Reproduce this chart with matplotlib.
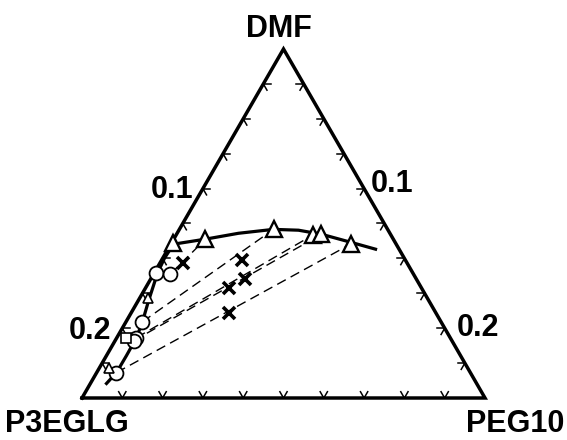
import numpy as np
import matplotlib
matplotlib.use("Agg")
import matplotlib.pyplot as plt

# mass fractions (P3EGLG, PEG10); DMF is the rest. Diagram shows DMF 0.75..1
SCALE = 0.25

# PEG10-rich phase (triangles)
tri_p3 = [0.1378, 0.1165, 0.0708, 0.0487, 0.0428, 0.0283]
tri_peg = [0.0013, 0.0197, 0.0584, 0.0847, 0.0899, 0.1115]

# P3EGLG-rich phase (circles)
circ_p3 = [0.1596, 0.1507, 0.1852, 0.1946, 0.1975, 0.2195]
circ_peg = [0.0008, 0.0105, 0.0102, 0.0122, 0.0115, 0.0123]

# feed compositions (crosses)
feed_p3 = [0.1387, 0.1017, 0.1060, 0.1197, 0.1280]
feed_peg = [0.0146, 0.0496, 0.0588, 0.0515, 0.0610]

# small open markers on the left branch
stri_p3 = [0.1729, 0.2227]
stri_peg = [0.0054, 0.0056]
sq_p3 = [0.2008]
sq_peg = [0.0060]

# binodal curve
bin_p3 = [0.2296, 0.2195, 0.2072, 0.1946, 0.1852, 0.1740, 0.1584, 0.1487,
          0.1381, 0.1165, 0.0939, 0.0708, 0.0556, 0.0428, 0.0276, 0.0146]
bin_peg = [0.0100, 0.0123, 0.0124, 0.0122, 0.0102, 0.0065, 0.0021, 0.0011,
           0.0017, 0.0197, 0.0381, 0.0584, 0.0742, 0.0899, 0.1108, 0.1288]

# tie lines: index into circles -> index into triangles
tie_circ = [1, 2, 3, 4, 5]
tie_tri = [1, 2, 3, 4, 5]

tick_labels = ["0.1", "0.2"]
tick_vals = [0.1, 0.2]

H = np.sqrt(3) / 2


def to_xy(p3, peg):
    u = np.asarray(p3) / SCALE
    v = np.asarray(peg) / SCALE
    w = 1 - u - v
    return v + 0.5 * w, w * H


fig = plt.figure(figsize=(5.67, 4.4), dpi=100)
ax = fig.add_axes([82 / 567, 42 / 440, 403 / 567, 349 / 440])
ax.set_xlim(0, 1)
ax.set_ylim(0, H)
ax.axis("off")

# frame
ax.plot([0, 1, 0.5, 0], [0, 0, H, 0], color="black", lw=2.5,
        solid_joinstyle="miter", clip_on=False, zorder=2)

# ticks
tl = 0.018
for k in range(1, 10):
    f = k / 10
    # bottom
    x0, y0 = f, 0
    for dx, dy in [(0.5, H), (-0.5, H)]:
        ax.plot([x0, x0 + tl * dx], [y0, y0 + tl * dy], color="black", lw=1.1)
    # left (from top to bottom-left)
    x0, y0 = 0.5 - 0.5 * f, H * (1 - f)
    for dx, dy in [(1, 0), (0.5, -H)]:
        ax.plot([x0, x0 + tl * dx], [y0, y0 + tl * dy], color="black", lw=1.1)
    # right
    x0, y0 = 0.5 + 0.5 * f, H * (1 - f)
    for dx, dy in [(-1, 0), (-0.5, -H)]:
        ax.plot([x0, x0 + tl * dx], [y0, y0 + tl * dy], color="black", lw=1.1)

# tie lines
cx, cy = to_xy(circ_p3, circ_peg)
tx, ty = to_xy(tri_p3, tri_peg)
for i, j in zip(tie_circ, tie_tri):
    ax.plot([cx[i], tx[j]], [cy[i], ty[j]], color="black", lw=1.0,
            dashes=(7, 4), zorder=3)

# binodal
bx, by = to_xy(bin_p3, bin_peg)
ax.plot(bx, by, color="black", lw=2.3, zorder=4)

# markers
ax.plot(tx, ty, "^", ms=11, mfc="white", mec="black", mew=1.7, zorder=5)
ax.plot(cx, cy, "o", ms=10, mfc="white", mec="black", mew=1.3, zorder=5)
sx, sy = to_xy(stri_p3, stri_peg)
ax.plot(sx, sy, "^", ms=6.5, mfc="white", mec="black", mew=1.2, zorder=5)
qx, qy = to_xy(sq_p3, sq_peg)
ax.plot(qx, qy, "s", ms=6.5, mfc="white", mec="black", mew=1.2, zorder=5)
fx, fy = to_xy(feed_p3, feed_peg)
ax.plot(fx, fy, "x", ms=8.5, color="black", mew=2.6, zorder=6)

font = dict(family="Liberation Sans", fontweight="bold", fontsize=22)

# axis value labels
for lab, val, off in zip(tick_labels, tick_vals, [(-7, -1), (-8, -2)]):
    x, y = to_xy([val], [0])
    ax.annotate(lab, (x[0], y[0]), xytext=off, textcoords="offset points",
                ha="right", va="center", annotation_clip=False, **font)
for lab, val, off in zip(tick_labels, tick_vals, [(5, 3), (9, 0)]):
    x, y = to_xy([0], [val])
    ax.annotate(lab, (x[0], y[0]), xytext=off, textcoords="offset points",
                ha="left", va="center", annotation_clip=False, **font)

# component names
fig.text(279 / 567, 1 - 29 / 440, "DMF", ha="center", va="center", **font)
fig.text(67 / 567, 1 - 424 / 440, "P3EGLG", ha="center", va="center", **font)
fig.text(515 / 567, 1 - 424 / 440, "PEG10", ha="center", va="center", **font)

fig.savefig("out.png", dpi=100)
